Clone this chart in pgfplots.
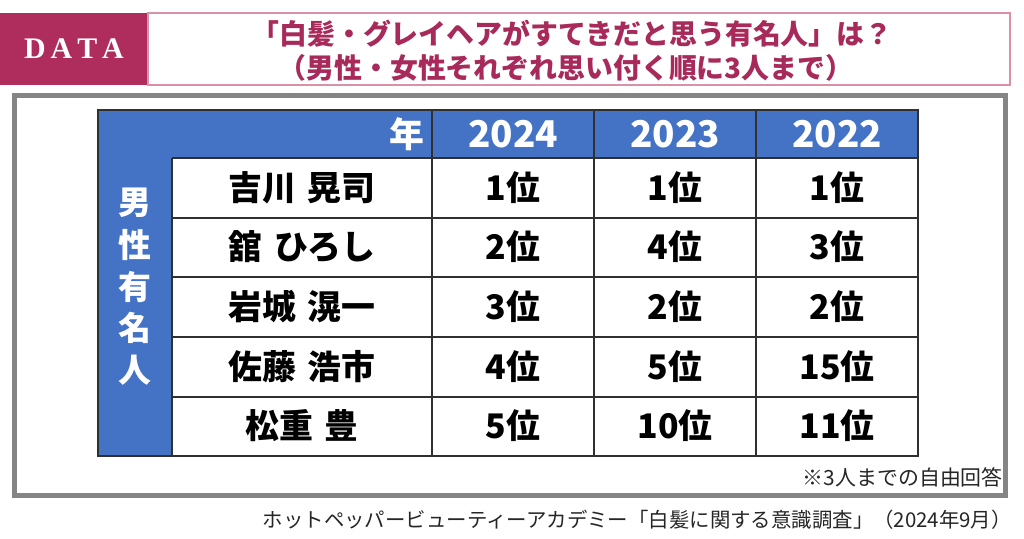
\documentclass[border=0pt]{standalone}
\usepackage{pgfplots}
\pgfplotsset{compat=1.18}
\usepackage{fontspec}
\newfontfamily\jp{Noto Sans CJK JP}
\newfontfamily\deco{Liberation Serif}
\definecolor{wine}{HTML}{AE2D5C}
\definecolor{winetxt}{HTML}{A82A5B}
\definecolor{pinkline}{HTML}{D991A8}
\definecolor{framegray}{HTML}{858585}
\definecolor{hdr}{HTML}{4472C4}
\definecolor{gridc}{HTML}{303030}
\newcommand{\fs}[1]{\fontsize{#1}{#1}\selectfont}
\newcommand{\gap}{\hspace{0.35em}}

% text layer: one plot per group of cells, labels as symbolic meta
\pgfplotsset{
  txt/.style={draw=none,mark=none,nodes near coords,point meta=explicit symbolic,
    every node near coord/.append style={anchor=center,inner sep=0pt,#1}},
}

\begin{document}
\begin{tikzpicture}
\begin{axis}[
  width=1024bp,height=538bp,scale only axis,
  xmin=0,xmax=1024,ymin=0,ymax=538,y dir=reverse,
  hide axis,clip=false
]
% keep the whole canvas in the picture
\addplot[draw=none] coordinates {(0,0) (1024,538)};

% banner
\addplot[fill=wine,draw=none] coordinates {(0,13) (148,13) (148,85) (0,85)} -- cycle;
\addplot[draw=pinkline,line width=1.5bp] coordinates {(148,13) (1010,13) (1010,85) (148,85)} -- cycle;
\addplot[txt={text=white,font=\deco\bfseries\fs{30}}] coordinates {(74,49)[D\,A\,T\,A]};
\addplot[txt={text=winetxt,font=\jp\bfseries\fs{28}}] coordinates
  {(572,34)[「白髪・グレイヘアがすてきだと思う有名人」は？]
   (566,68)[（男性・女性それぞれ思い付く順に3人まで）]};

% gray frame
\addplot[draw=framegray,line width=5bp] coordinates {(14.5,95) (1005,95) (1005,495) (14.5,495)} -- cycle;

% table header shading
\addplot[fill=hdr,draw=none] coordinates
  {(98,110) (918,110) (918,158) (172,158) (172,456) (98,456)} -- cycle;

% grid
\addplot[draw=gridc,line width=1.5bp] coordinates {(98,110) (918,110) (918,456) (98,456)} -- cycle;
\addplot[draw=gridc,line width=1.2bp,unbounded coords=jump] coordinates {
  (172,158) (918,158) (nan,nan)
  (172,218) (918,218) (nan,nan)
  (172,277) (918,277) (nan,nan)
  (172,337) (918,337) (nan,nan)
  (172,397) (918,397) (nan,nan)
  (172,158) (172,456) (nan,nan)
  (432,110) (432,456) (nan,nan)
  (594,110) (594,456) (nan,nan)
  (756,110) (756,456)};

% header text
\addplot[txt={text=white,font=\jp\bfseries\fs{37}}] coordinates
  {(513,134)[2024] (675,134)[2023] (837,134)[2022]};
\addplot[txt={text=white,font=\jp\bfseries\fs{35},anchor=east}] coordinates {(425,134)[年]};
\addplot[txt={text=white,font=\jp\bfseries\fs{33}}] coordinates
  {(135,203)[男] (135,245)[性] (135,287)[有] (135,328)[名] (135,370)[人]};

% names
\addplot[txt={text=black,font=\jp\bfseries\fs{34}}] coordinates
  {(302,188)[吉川\gap 晃司] (302,247)[舘\gap ひろし] (302,307)[岩城\gap 滉一]
   (302,367)[佐藤\gap 浩市] (302,426)[松重\gap 豊]};

% ranks 2024
\addplot[txt={text=black,font=\jp\bfseries\fs{34}}] coordinates
  {(513,188)[1位] (513,247)[2位] (513,307)[3位] (513,367)[4位] (513,426)[5位]};
% ranks 2023
\addplot[txt={text=black,font=\jp\bfseries\fs{34}}] coordinates
  {(675,188)[1位] (675,247)[4位] (675,307)[2位] (675,367)[5位] (675,426)[10位]};
% ranks 2022
\addplot[txt={text=black,font=\jp\bfseries\fs{34}}] coordinates
  {(837,188)[1位] (837,247)[3位] (837,307)[2位] (837,367)[15位] (837,426)[11位]};

% notes
\addplot[txt={text=black!85,font=\jp\fs{21},anchor=east}] coordinates {(1003,477)[※3人までの自由回答]};
\addplot[txt={text=black!85,font=\jp\fs{20.5},anchor=east}] coordinates
  {(1012,520)[ホットペッパービューティーアカデミー「白髪に関する意識調査」（2024年9月）]};
\end{axis}
\end{tikzpicture}
\end{document}
